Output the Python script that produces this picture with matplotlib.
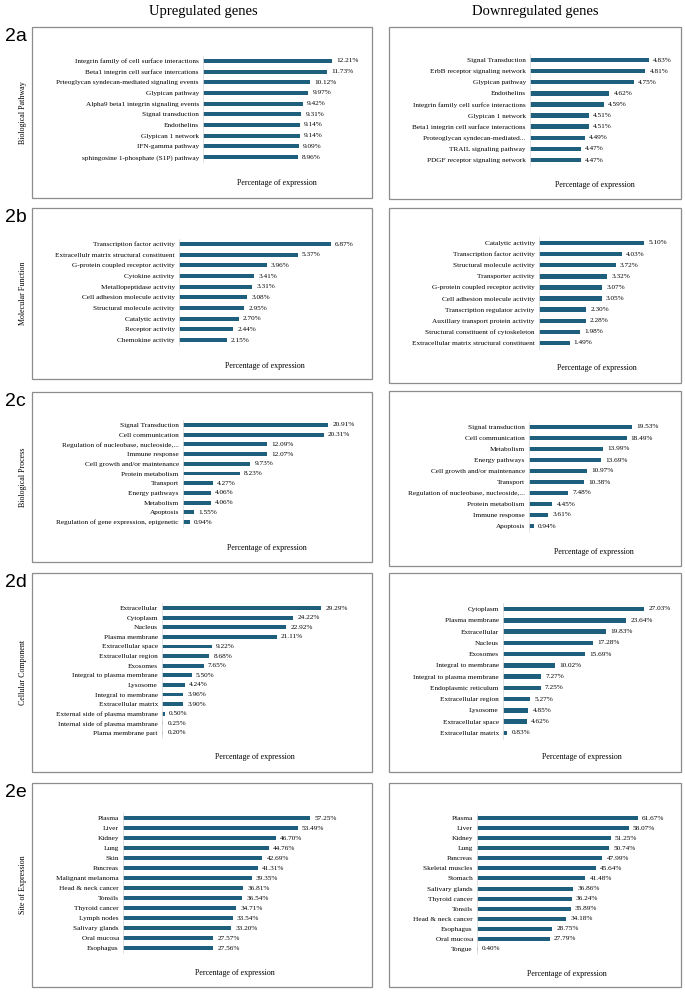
import numpy as np
import matplotlib
matplotlib.use("Agg")
import matplotlib.pyplot as plt
from matplotlib.patches import Rectangle

plt.rcParams['font.family'] = ['Liberation Serif', 'DejaVu Serif']

BAR_COLOR = '#1f5f7e'
W, H = 685, 993

# ---- data ----
bp_up_labels = ["Integrin family of cell surface interactions",
                "Beta1 integrin cell surface intercations",
                "Prteoglycan syndecan-mediated signaling events",
                "Glypican pathway",
                "Alpha9 beta1 integrin signaling events",
                "Signal transduction",
                "Endothelins",
                "Glypican 1 network",
                "IFN-gamma pathway",
                "sphingosine 1-phosphate (S1P) pathway"]
bp_up_values = [12.21, 11.73, 10.12, 9.97, 9.42, 9.31, 9.14, 9.14, 9.09, 8.96]

bp_down_labels = ["Signal Transduction",
                  "ErbB receptor signaling network",
                  "Glypican pathway",
                  "Endothelins",
                  "Integrin family cell surfce interactions",
                  "Glypican 1 network",
                  "Beta1 integrin cell surface interactions",
                  "Proteoglycan syndecan-mediated...",
                  "TRAIL signaling pathway",
                  "PDGF receptor signaling network"]
bp_down_values = [4.83, 4.81, 4.75, 4.62, 4.59, 4.51, 4.51, 4.49, 4.47, 4.47]

mf_up_labels = ["Transcription factor activity",
                "Extracellulr matrix structural constituent",
                "G-protein coupled receptor activity",
                "Cytokine activity",
                "Metallopeptidase activity",
                "Cell adhesion molecule activity",
                "Structural molecule activity",
                "Catalytic activity",
                "Receptor activity",
                "Chemokine activity"]
mf_up_values = [6.87, 5.37, 3.96, 3.41, 3.31, 3.08, 2.95, 2.70, 2.44, 2.15]

mf_down_labels = ["Catalytic activity",
                  "Transcription factor activity",
                  "Structural molecule activity",
                  "Transporter activity",
                  "G-protein coupled receptor activity",
                  "Cell adhesion molecule activity",
                  "Transcription regulator acivity",
                  "Auxillary transport protein activity",
                  "Structural constituent of cytoskeleton",
                  "Extracellular matrix structural constituent"]
mf_down_values = [5.10, 4.03, 3.72, 3.32, 3.07, 3.05, 2.30, 2.28, 1.98, 1.49]

bproc_up_labels = ["Signal Transduction",
                   "Cell communication",
                   "Regulation of nucleobase, nucleoside,...",
                   "Immune response",
                   "Cell growth and/or maintenance",
                   "Protein metabolism",
                   "Transport",
                   "Energy pathways",
                   "Metabolism",
                   "Apoptosis",
                   "Regulation of gene expression, epigenetic"]
bproc_up_values = [20.91, 20.31, 12.09, 12.07, 9.73, 8.23, 4.27, 4.06, 4.06, 1.55, 0.94]

bproc_down_labels = ["Signal transduction",
                     "Cell communication",
                     "Metabolism",
                     "Energy pathways",
                     "Cell growth and/or maintenance",
                     "Transport",
                     "Regulation of nucleobase, nucleoside,...",
                     "Protein metabolism",
                     "Immune response",
                     "Apoptosis"]
bproc_down_values = [19.53, 18.49, 13.99, 13.69, 10.97, 10.38, 7.48, 4.45, 3.61, 0.94]

cc_up_labels = ["Extracellular",
                "Cytoplasm",
                "Nucleus",
                "Plasma membrane",
                "Extracellular space",
                "Extracellular region",
                "Exosomes",
                "Integral to plasma membrane",
                "Lysosome",
                "Integral to membrane",
                "Extracellular matrix",
                "External side of plasma mambrane",
                "Internal side of plasma mambrane",
                "Plama membrane part"]
cc_up_values = [29.29, 24.22, 22.92, 21.11, 9.22, 8.68, 7.65, 5.50, 4.24, 3.96, 3.90,
                0.50, 0.25, 0.20]

cc_down_labels = ["Cytoplasm",
                  "Plasma membrane",
                  "Extracellular",
                  "Nucleus",
                  "Exosomes",
                  "Integral to membrane",
                  "Integral to plasma membrane",
                  "Endoplasmic reticulum",
                  "Extracellular region",
                  "Lysosome",
                  "Extracellular space",
                  "Extracellular matrix"]
cc_down_values = [27.03, 23.64, 19.83, 17.28, 15.69, 10.02, 7.27, 7.25, 5.27, 4.85,
                  4.62, 0.83]

site_up_labels = ["Plasma", "Liver", "Kidney", "Lung", "Skin", "Pancreas",
                  "Malignant melanoma", "Head & neck cancer", "Tonsils",
                  "Thyroid cancer", "Lymph nodes", "Salivary glands",
                  "Oral mucosa", "Esophagus"]
site_up_values = [57.25, 53.49, 46.70, 44.76, 42.69, 41.31, 39.35, 36.81, 36.54,
                  34.71, 33.54, 33.20, 27.57, 27.56]

site_down_labels = ["Plasma", "Liver", "Kidney", "Lung", "Pancreas",
                    "Skeletal muscles", "Stomach", "Salivary glands",
                    "Thyroid cancer", "Tonsils", "Head & neck cancer",
                    "Esophagus", "Oral mucosa", "Tongue"]
site_down_values = [61.67, 58.07, 51.25, 50.74, 47.99, 45.64, 41.48, 36.86, 36.24,
                    35.89, 34.18, 28.75, 27.79, 0.40]

row_names = ["2a", "2b", "2c", "2d", "2e"]
row_titles = ["Biological Pathway", "Molecular Function", "Biological Process",
              "Cellular Component", "Site of Expression"]

# ---- layout in pixels: box, axis min, bar start x, bar end x of max,
#      first/last bar y, xlabel pos ----
panels = [
    (bp_up_labels, bp_up_values, (32, 27, 372, 198), 0, 203, 332, 61, 157, (277, 183)),
    (bp_down_labels, bp_down_values, (389, 27, 681, 199), 4.2, 530, 649, 60, 160, (595, 185)),
    (mf_up_labels, mf_up_values, (32, 208, 372, 379), 0, 179, 331, 244, 340, (265, 366)),
    (mf_down_labels, mf_down_values, (389, 208, 681, 383), 0, 539, 644, 243, 343, (597, 368)),
    (bproc_up_labels, bproc_up_values, (32, 392, 372, 562), 0, 183, 328, 425, 522, (267, 548)),
    (bproc_down_labels, bproc_down_values, (389, 391, 681, 566), 0, 529, 632, 427, 526, (594, 552)),
    (cc_up_labels, cc_up_values, (32, 573, 372, 772), 0, 162, 321, 608, 733, (255, 757)),
    (cc_down_labels, cc_down_values, (389, 573, 681, 772), 0, 503, 644, 609, 733, (582, 757)),
    (site_up_labels, site_up_values, (32, 783, 372, 987), 0, 123, 310, 818, 948, (235, 973)),
    (site_down_labels, site_down_values, (389, 783, 681, 987), 0, 477, 638, 818, 949, (567, 974)),
]


def fx(px):
    return px / W


def fy(py):
    return 1 - py / H


fig = plt.figure(figsize=(W / 100, H / 100), dpi=100)

fig.text(fx(203), fy(12), "Upregulated genes", ha='center', va='center', fontsize=10.5)
fig.text(fx(535), fy(12), "Downregulated genes", ha='center', va='center', fontsize=10.5)

for k, (labels, values, box, xmin, x0, x1, y_first, y_last, xlab) in enumerate(panels):
    bx0, by0, bx1, by1 = box
    fig.patches.append(Rectangle((fx(bx0), fy(by1)), fx(bx1 - bx0), (by1 - by0) / H,
                                 transform=fig.transFigure, fill=False,
                                 edgecolor='#8c8c8c', linewidth=0.9))
    n = len(labels)
    step = (y_last - y_first) / (n - 1)
    top = y_first - step / 2
    bottom = y_last + step / 2
    ax = fig.add_axes([fx(x0), fy(bottom), fx(x1 - x0), (bottom - top) / H])
    pos = np.arange(n)
    ax.barh(pos, np.array(values) - xmin, left=xmin, height=0.4, color=BAR_COLOR)
    ax.set_xlim(xmin, max(values))
    ax.set_ylim(n - 0.5, -0.5)
    ax.set_yticks(pos)
    ax.set_yticklabels(labels, fontsize=5.2)
    ax.tick_params(axis='y', length=0, pad=3)
    ax.set_xticks([])
    for s in ['top', 'right', 'bottom']:
        ax.spines[s].set_visible(False)
    ax.spines['left'].set_color('#dedede')
    ax.spines['left'].set_linewidth(0.6)
    ax.patch.set_alpha(0)
    for i, v in enumerate(values):
        ax.annotate(f"{v:.2f}%", (v, i), xytext=(3, 0), textcoords='offset points',
                    ha='left', va='center', fontsize=5.2, annotation_clip=False)
    fig.text(fx(xlab[0]), fy(xlab[1]), "Percentage of expression",
             ha='center', va='center', fontsize=5.8)
    if k % 2 == 0:
        r = k // 2
        fig.text(fx(5), fy(by0 + 1), row_names[r], ha='left', va='top',
                 fontsize=14, family=['Liberation Sans', 'DejaVu Sans'])
        fig.text(fx(23), fy((by0 + by1) / 2), row_titles[r], ha='center', va='center',
                 rotation=90, fontsize=5.8)

plt.savefig("out.png", dpi=100)
